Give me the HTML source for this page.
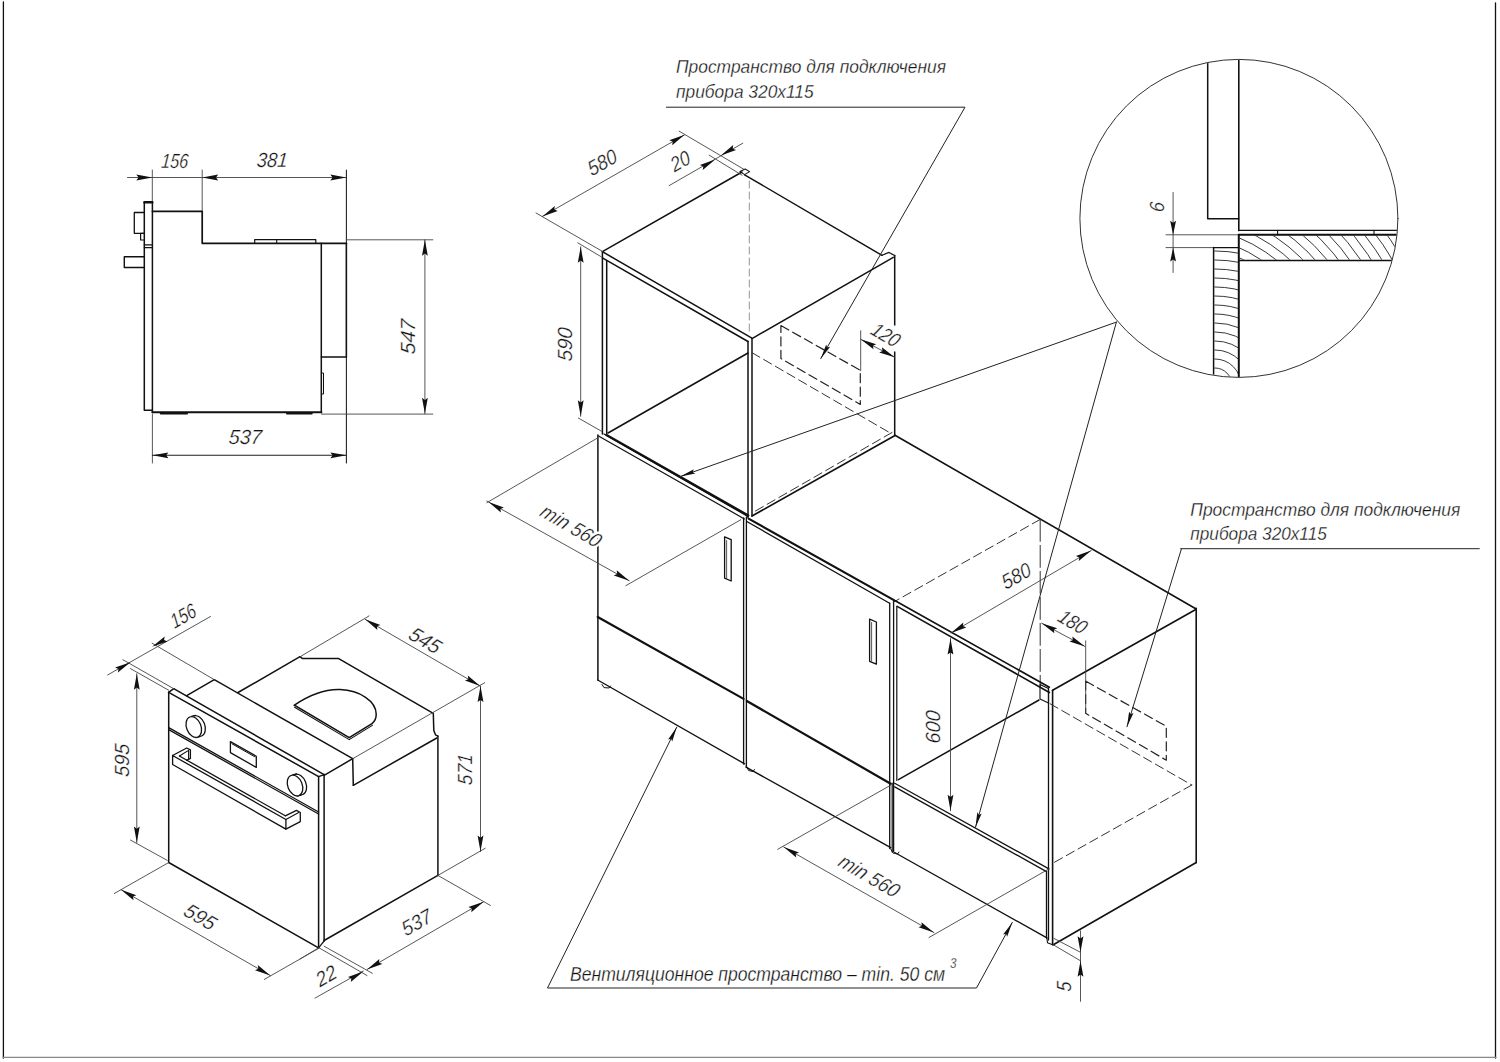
<!DOCTYPE html>
<html><head><meta charset="utf-8"><style>
html,body{margin:0;padding:0;background:#fff;}
svg{display:block;}
text{font-family:"Liberation Sans",sans-serif;}
</style></head><body>
<svg width="1500" height="1062" viewBox="0 0 1500 1062" stroke-linecap="round">
<line x1="3.4" y1="2.0" x2="3.4" y2="1058.0" stroke="#111" stroke-width="1.3"/>
<line x1="1495.5" y1="3.0" x2="1495.5" y2="1058.0" stroke="#111" stroke-width="1.3"/>
<line x1="3.0" y1="1057.4" x2="1496.0" y2="1057.4" stroke="#888" stroke-width="1.3"/>
<line x1="127.5" y1="177.5" x2="346.3" y2="177.5" stroke="#444" stroke-width="0.9"/>
<line x1="152.3" y1="170.0" x2="152.3" y2="201.7" stroke="#444" stroke-width="0.9"/>
<line x1="202.2" y1="170.0" x2="202.2" y2="211.3" stroke="#444" stroke-width="0.9"/>
<line x1="346.4" y1="170.0" x2="346.4" y2="463.0" stroke="#222" stroke-width="1.1"/>
<polygon points="152.3,177.5 136.3,180.4 138.5,177.5 136.3,174.6" fill="#111"/>
<polygon points="202.2,177.5 218.2,174.6 216.0,177.5 218.2,180.4" fill="#111"/>
<polygon points="346.3,177.5 330.3,180.4 332.5,177.5 330.3,174.6" fill="#111"/>
<text x="0" y="0" transform="translate(175.0,161.0) rotate(0) skewX(-5)" font-size="20.5" font-style="italic" text-anchor="middle" dominant-baseline="central" fill="#111" stroke="#fff" stroke-width="0.3" textLength="27.0" lengthAdjust="spacingAndGlyphs">156</text>
<text x="0" y="0" transform="translate(272.3,160.0) rotate(0) skewX(-5)" font-size="20.5" font-style="italic" text-anchor="middle" dominant-baseline="central" fill="#111" stroke="#fff" stroke-width="0.3" textLength="31.0" lengthAdjust="spacingAndGlyphs">381</text>
<polyline points="152.4,201.7 144.3,201.7 144.3,410.3 152.4,410.3" fill="none" stroke="#111" stroke-width="1.5" stroke-linejoin="round"/>
<line x1="152.4" y1="201.7" x2="152.4" y2="412.4" stroke="#111" stroke-width="1.5"/>
<line x1="144.3" y1="202.4" x2="152.4" y2="202.4" stroke="#111" stroke-width="2.2"/>
<polyline points="144.3,212.5 134.3,212.5 134.3,233.3 144.3,233.3" fill="none" stroke="#111" stroke-width="1.3" stroke-linejoin="round"/>
<polyline points="144.3,233.3 140.6,233.3 140.6,240.0 144.3,240.0" fill="none" stroke="#111" stroke-width="1.2" stroke-linejoin="round"/>
<line x1="144.3" y1="244.8" x2="152.4" y2="244.8" stroke="#111" stroke-width="1.2"/>
<line x1="144.3" y1="247.6" x2="152.4" y2="247.6" stroke="#111" stroke-width="1.2"/>
<polyline points="144.3,256.7 124.3,256.7 124.3,267.5 144.3,267.5" fill="none" stroke="#111" stroke-width="1.4" stroke-linejoin="round"/>
<polyline points="152.4,211.3 202.2,211.3 202.2,243.3 346.4,243.3" fill="none" stroke="#111" stroke-width="1.7" stroke-linejoin="round"/>
<polyline points="254.7,243.3 254.7,239.6 315.8,239.6 315.8,243.3" fill="none" stroke="#111" stroke-width="1.2" stroke-linejoin="round"/>
<line x1="276.7" y1="239.6" x2="276.7" y2="243.3" stroke="#111" stroke-width="1.1"/>
<line x1="321.3" y1="243.3" x2="321.3" y2="412.4" stroke="#111" stroke-width="1.5"/>
<line x1="346.4" y1="243.3" x2="346.4" y2="357.0" stroke="#111" stroke-width="1.5"/>
<line x1="321.3" y1="357.0" x2="346.4" y2="357.0" stroke="#111" stroke-width="1.5"/>
<polyline points="321.4,373.0 323.5,373.0 323.5,394.0 321.4,394.0" fill="none" stroke="#111" stroke-width="1.0" stroke-linejoin="round"/>
<line x1="152.4" y1="412.3" x2="321.4" y2="412.3" stroke="#111" stroke-width="2.0"/>
<line x1="160.8" y1="413.6" x2="187.0" y2="413.6" stroke="#111" stroke-width="2.0"/>
<line x1="287.0" y1="413.6" x2="311.7" y2="413.6" stroke="#111" stroke-width="2.0"/>
<line x1="321.4" y1="414.1" x2="432.8" y2="414.1" stroke="#444" stroke-width="0.9"/>
<line x1="346.4" y1="239.8" x2="432.8" y2="239.8" stroke="#444" stroke-width="0.9"/>
<line x1="424.9" y1="239.8" x2="424.9" y2="413.7" stroke="#444" stroke-width="0.9"/>
<polygon points="424.9,239.8 427.8,255.8 424.9,253.6 422.0,255.8" fill="#111"/>
<polygon points="424.9,413.7 422.0,397.7 424.9,399.9 427.8,397.7" fill="#111"/>
<text x="0" y="0" transform="translate(408.0,336.6) rotate(-90) skewX(-5)" font-size="20.5" font-style="italic" text-anchor="middle" dominant-baseline="central" fill="#111" stroke="#fff" stroke-width="0.3" textLength="35.0" lengthAdjust="spacingAndGlyphs">547</text>
<line x1="152.4" y1="414.0" x2="152.4" y2="463.0" stroke="#444" stroke-width="0.9"/>
<line x1="152.4" y1="455.3" x2="346.4" y2="455.3" stroke="#222" stroke-width="1.1"/>
<polygon points="152.4,455.3 168.4,452.4 166.2,455.3 168.4,458.2" fill="#111"/>
<polygon points="346.4,455.3 330.4,458.2 332.6,455.3 330.4,452.4" fill="#111"/>
<text x="0" y="0" transform="translate(245.5,437.0) rotate(0) skewX(-5)" font-size="20.5" font-style="italic" text-anchor="middle" dominant-baseline="central" fill="#111" stroke="#fff" stroke-width="0.3" textLength="33.0" lengthAdjust="spacingAndGlyphs">537</text>
<line x1="168.7" y1="692.3" x2="168.7" y2="862.5" stroke="#111" stroke-width="1.5"/>
<line x1="168.7" y1="692.3" x2="318.6" y2="776.6" stroke="#111" stroke-width="1.5"/>
<line x1="173.7" y1="688.7" x2="324.1" y2="774.6" stroke="#111" stroke-width="1.5"/>
<line x1="168.7" y1="692.3" x2="173.7" y2="688.7" stroke="#111" stroke-width="1.5"/>
<line x1="318.6" y1="776.6" x2="324.1" y2="774.6" stroke="#111" stroke-width="1.5"/>
<line x1="318.6" y1="776.6" x2="318.6" y2="947.8" stroke="#111" stroke-width="1.5"/>
<line x1="324.1" y1="774.6" x2="324.1" y2="941.0" stroke="#111" stroke-width="1.5"/>
<line x1="168.7" y1="862.5" x2="318.6" y2="947.8" stroke="#111" stroke-width="1.5"/>
<line x1="318.6" y1="947.8" x2="324.1" y2="941.0" stroke="#111" stroke-width="1.2"/>
<line x1="186.7" y1="695.7" x2="214.3" y2="679.7" stroke="#111" stroke-width="1.5"/>
<line x1="214.3" y1="679.7" x2="352.7" y2="758.7" stroke="#111" stroke-width="1.5"/>
<line x1="324.1" y1="775.3" x2="352.7" y2="758.7" stroke="#111" stroke-width="1.5"/>
<line x1="352.7" y1="758.7" x2="353.3" y2="785.3" stroke="#111" stroke-width="1.5"/>
<line x1="353.3" y1="785.3" x2="436.8" y2="738.0" stroke="#111" stroke-width="1.5"/>
<line x1="437.9" y1="736.0" x2="437.9" y2="875.4" stroke="#111" stroke-width="1.5"/>
<line x1="324.1" y1="940.5" x2="437.9" y2="875.4" stroke="#111" stroke-width="1.5"/>
<line x1="238.0" y1="692.5" x2="300.0" y2="656.7" stroke="#111" stroke-width="1.5"/>
<polyline points="300.0,656.7 302.5,658.6 338.7,658.6 433.3,713.3 433.8,730.5 435.5,734.8 437.9,736.2" fill="none" stroke="#111" stroke-width="1.5" stroke-linejoin="round"/>
<line x1="168.7" y1="727.6" x2="318.6" y2="812.0" stroke="#111" stroke-width="1.3"/>
<line x1="168.7" y1="729.6" x2="318.6" y2="814.0" stroke="#111" stroke-width="1.3"/>
<ellipse cx="197.6" cy="726.0" rx="7.2" ry="10.8" transform="rotate(-22 197.6 726.0)" fill="none" stroke="#111" stroke-width="1.3"/>
<line x1="191.6" y1="716.4" x2="195.4" y2="715.4" stroke="#111" stroke-width="1.3"/>
<line x1="196.0" y1="737.6" x2="199.8" y2="736.6" stroke="#111" stroke-width="1.3"/>
<ellipse cx="193.8" cy="727.0" rx="7.2" ry="10.8" transform="rotate(-22 193.8 727.0)" fill="#fff" stroke="#111" stroke-width="1.3"/>
<ellipse cx="298.8" cy="784.5" rx="7.2" ry="10.8" transform="rotate(-22 298.8 784.5)" fill="none" stroke="#111" stroke-width="1.3"/>
<line x1="292.8" y1="774.9" x2="296.6" y2="773.9" stroke="#111" stroke-width="1.3"/>
<line x1="297.2" y1="796.1" x2="301.0" y2="795.1" stroke="#111" stroke-width="1.3"/>
<ellipse cx="295.0" cy="785.5" rx="7.2" ry="10.8" transform="rotate(-22 295.0 785.5)" fill="#fff" stroke="#111" stroke-width="1.3"/>
<polygon points="230.4,741.6 256.3,756.2 256.3,767.4 230.4,752.6" fill="none" stroke="#111" stroke-width="1.3" stroke-linejoin="round"/>
<polyline points="231.9,743.8 254.8,756.8" fill="none" stroke="#111" stroke-width="1.0" stroke-linejoin="round"/>
<polyline points="172.6,755.5 285.9,819.5 285.9,829.1 172.6,764.5 172.6,755.5" fill="none" stroke="#111" stroke-width="1.3" stroke-linejoin="round"/>
<polyline points="172.6,755.5 186.7,748.0 190.4,749.8 190.4,758.4 186.6,760.4" fill="none" stroke="#111" stroke-width="1.3" stroke-linejoin="round"/>
<polyline points="179.4,756.0 188.6,750.4 188.6,758.8" fill="none" stroke="#111" stroke-width="1.1" stroke-linejoin="round"/>
<line x1="179.4" y1="756.0" x2="285.3" y2="815.8" stroke="#111" stroke-width="1.3"/>
<polyline points="285.3,815.8 296.5,810.4 300.3,812.5 300.3,821.6 285.9,829.1" fill="none" stroke="#111" stroke-width="1.3" stroke-linejoin="round"/>
<line x1="285.9" y1="819.5" x2="298.7" y2="812.6" stroke="#111" stroke-width="1.1"/>
<path d="M294.4,705.2 C308,696 324,689 340,689.6 C360,690.5 376,701 376.2,714 C376.3,718.5 374.5,721.6 372,723.6 L349.2,737.6 Z" fill="none" stroke="#111" stroke-width="1.5"/>
<polyline points="294.6,707.2 349.2,739.6 372.4,725.4" fill="none" stroke="#111" stroke-width="1.1" stroke-linejoin="round"/>
<line x1="107.6" y1="675.0" x2="210.5" y2="616.5" stroke="#444" stroke-width="0.9"/>
<line x1="122.9" y1="659.7" x2="173.7" y2="688.7" stroke="#444" stroke-width="0.9"/>
<line x1="152.1" y1="643.2" x2="214.3" y2="679.7" stroke="#444" stroke-width="0.9"/>
<polygon points="130.5,662.2 117.9,672.5 118.5,668.9 115.1,667.5" fill="#111"/>
<polygon points="152.1,646.8 164.7,636.5 164.1,640.1 167.5,641.5" fill="#111"/>
<text x="0" y="0" transform="translate(183.0,615.5) rotate(-30) skewX(-5)" font-size="20.5" font-style="italic" text-anchor="middle" dominant-baseline="central" fill="#111" stroke="#fff" stroke-width="0.3" textLength="27.0" lengthAdjust="spacingAndGlyphs">156</text>
<line x1="136.8" y1="673.7" x2="136.8" y2="842.6" stroke="#444" stroke-width="0.9"/>
<line x1="130.5" y1="668.6" x2="168.6" y2="690.2" stroke="#444" stroke-width="0.9"/>
<line x1="130.5" y1="840.1" x2="167.3" y2="860.4" stroke="#444" stroke-width="0.9"/>
<polygon points="136.8,673.7 139.7,689.7 136.8,687.5 133.9,689.7" fill="#111"/>
<polygon points="136.8,842.6 133.9,826.6 136.8,828.8 139.7,826.6" fill="#111"/>
<text x="0" y="0" transform="translate(121.6,760.0) rotate(-90) skewX(-5)" font-size="20.5" font-style="italic" text-anchor="middle" dominant-baseline="central" fill="#111" stroke="#fff" stroke-width="0.3" textLength="33.0" lengthAdjust="spacingAndGlyphs">595</text>
<line x1="168.6" y1="862.6" x2="114.3" y2="893.5" stroke="#444" stroke-width="0.9"/>
<line x1="318.5" y1="948.5" x2="264.3" y2="979.4" stroke="#444" stroke-width="0.9"/>
<line x1="121.1" y1="889.7" x2="270.3" y2="975.6" stroke="#444" stroke-width="0.9"/>
<polygon points="121.1,889.7 136.4,895.2 133.0,896.6 133.5,900.2" fill="#111"/>
<polygon points="270.3,975.6 255.0,970.2 258.4,968.8 257.8,965.1" fill="#111"/>
<text x="0" y="0" transform="translate(200.5,916.5) rotate(30) skewX(-5)" font-size="20.5" font-style="italic" text-anchor="middle" dominant-baseline="central" fill="#111" stroke="#fff" stroke-width="0.3" textLength="33.0" lengthAdjust="spacingAndGlyphs">595</text>
<line x1="352.7" y1="758.7" x2="484.7" y2="682.7" stroke="#444" stroke-width="0.9"/>
<line x1="300.5" y1="656.5" x2="369.1" y2="615.9" stroke="#444" stroke-width="0.9"/>
<line x1="365.1" y1="619.3" x2="480.2" y2="686.1" stroke="#444" stroke-width="0.9"/>
<polygon points="365.1,619.3 380.4,624.9 377.0,626.3 377.4,629.9" fill="#111"/>
<polygon points="480.2,686.1 464.9,680.6 468.3,679.2 467.8,675.6" fill="#111"/>
<text x="0" y="0" transform="translate(425.5,640.0) rotate(30) skewX(-5)" font-size="20.5" font-style="italic" text-anchor="middle" dominant-baseline="central" fill="#111" stroke="#fff" stroke-width="0.3" textLength="33.0" lengthAdjust="spacingAndGlyphs">545</text>
<line x1="437.9" y1="875.4" x2="485.2" y2="848.3" stroke="#444" stroke-width="0.9"/>
<line x1="480.5" y1="686.1" x2="480.5" y2="851.5" stroke="#444" stroke-width="0.9"/>
<polygon points="480.5,686.1 483.4,702.1 480.5,699.9 477.6,702.1" fill="#111"/>
<polygon points="480.5,851.5 477.6,835.5 480.5,837.7 483.4,835.5" fill="#111"/>
<text x="0" y="0" transform="translate(464.5,769.3) rotate(-90) skewX(-5)" font-size="20.5" font-style="italic" text-anchor="middle" dominant-baseline="central" fill="#111" stroke="#fff" stroke-width="0.3" textLength="31.0" lengthAdjust="spacingAndGlyphs">571</text>
<line x1="437.9" y1="875.4" x2="490.5" y2="905.5" stroke="#444" stroke-width="0.9"/>
<line x1="324.1" y1="946.2" x2="372.3" y2="973.3" stroke="#444" stroke-width="0.9"/>
<line x1="318.8" y1="947.7" x2="367.0" y2="975.5" stroke="#444" stroke-width="0.9"/>
<line x1="367.0" y1="969.5" x2="483.7" y2="901.7" stroke="#444" stroke-width="0.9"/>
<polygon points="367.0,969.5 379.4,959.0 378.9,962.6 382.3,964.0" fill="#111"/>
<polygon points="483.7,901.7 471.3,912.2 471.8,908.5 468.4,907.1" fill="#111"/>
<text x="0" y="0" transform="translate(416.5,922.0) rotate(-30) skewX(-5)" font-size="20.5" font-style="italic" text-anchor="middle" dominant-baseline="central" fill="#111" stroke="#fff" stroke-width="0.3" textLength="32.0" lengthAdjust="spacingAndGlyphs">537</text>
<line x1="315.0" y1="998.1" x2="363.3" y2="971.0" stroke="#444" stroke-width="0.9"/>
<polygon points="363.3,971.6 350.8,982.0 351.3,978.4 348.0,977.0" fill="#111"/>
<line x1="318.8" y1="947.7" x2="300.0" y2="959.0" stroke="#444" stroke-width="0.9"/>
<text x="0" y="0" transform="translate(326.0,975.5) rotate(-30) skewX(-5)" font-size="20.5" font-style="italic" text-anchor="middle" dominant-baseline="central" fill="#111" stroke="#fff" stroke-width="0.3" textLength="21.0" lengthAdjust="spacingAndGlyphs">22</text>
<line x1="602.4" y1="251.7" x2="742.0" y2="172.0" stroke="#111" stroke-width="1.5"/>
<polyline points="740.0,171.6 745.2,169.0 749.6,171.6 744.6,174.6 740.0,171.6" fill="none" stroke="#111" stroke-width="1.1" stroke-linejoin="round"/>
<line x1="744.6" y1="174.8" x2="882.0" y2="255.3" stroke="#111" stroke-width="1.5"/>
<polyline points="882.0,255.3 889.0,252.4 894.7,255.6" fill="none" stroke="#111" stroke-width="1.2" stroke-linejoin="round"/>
<line x1="894.7" y1="255.6" x2="894.7" y2="325.0" stroke="#111" stroke-width="1.5"/>
<line x1="894.7" y1="352.0" x2="894.7" y2="435.5" stroke="#111" stroke-width="1.5"/>
<line x1="602.4" y1="251.7" x2="751.5" y2="337.8" stroke="#111" stroke-width="1.5"/>
<line x1="602.4" y1="257.8" x2="748.0" y2="341.5" stroke="#111" stroke-width="1.5"/>
<line x1="893.3" y1="257.3" x2="752.0" y2="338.6" stroke="#111" stroke-width="1.5"/>
<line x1="602.4" y1="251.7" x2="602.4" y2="434.0" stroke="#111" stroke-width="1.5"/>
<line x1="606.7" y1="260.4" x2="606.7" y2="434.0" stroke="#111" stroke-width="1.5"/>
<line x1="748.0" y1="341.5" x2="748.0" y2="518.0" stroke="#111" stroke-width="1.5"/>
<line x1="752.0" y1="338.6" x2="752.0" y2="516.0" stroke="#111" stroke-width="1.5"/>
<line x1="604.0" y1="434.0" x2="748.0" y2="516.5" stroke="#111" stroke-width="1.3"/>
<line x1="606.5" y1="435.0" x2="748.2" y2="515.5" stroke="#111" stroke-width="2.4"/>
<line x1="608.0" y1="433.0" x2="748.0" y2="353.0" stroke="#111" stroke-width="1.5"/>
<line x1="895.0" y1="435.5" x2="752.0" y2="516.0" stroke="#111" stroke-width="1.7"/>
<line x1="749.3" y1="181.0" x2="749.3" y2="334.0" stroke="#888" stroke-width="0.9" stroke-dasharray="7,4"/>
<line x1="752.0" y1="352.7" x2="892.0" y2="434.0" stroke="#333" stroke-width="1.0" stroke-dasharray="9,4.5"/>
<line x1="892.0" y1="432.5" x2="752.0" y2="513.0" stroke="#333" stroke-width="1.0" stroke-dasharray="9,4.5"/>
<polyline points="780.9,325.6 860.3,370.3 860.3,404.4 780.9,358.5 780.9,325.6" fill="none" stroke="#222" stroke-width="1.2" stroke-dasharray="9,4.5" stroke-linejoin="round"/>
<line x1="597.9" y1="435.0" x2="597.9" y2="680.0" stroke="#111" stroke-width="1.5"/>
<line x1="598.5" y1="436.0" x2="744.4" y2="518.9" stroke="#111" stroke-width="1.2"/>
<line x1="743.6" y1="518.0" x2="743.6" y2="764.0" stroke="#111" stroke-width="1.3"/>
<line x1="746.4" y1="517.0" x2="746.4" y2="767.0" stroke="#111" stroke-width="1.3"/>
<line x1="597.7" y1="617.0" x2="743.6" y2="698.9" stroke="#111" stroke-width="2.2"/>
<line x1="597.7" y1="680.0" x2="744.6" y2="763.8" stroke="#111" stroke-width="1.4"/>
<polyline points="724.6,536.8 731.2,539.6 731.2,581.0 724.6,578.2 724.6,536.8" fill="none" stroke="#111" stroke-width="1.3" stroke-linejoin="round"/>
<line x1="726.6" y1="540.5" x2="726.6" y2="578.0" stroke="#444" stroke-width="0.9"/>
<polyline points="602.0,684.5 604.0,687.6 609.0,688.0 610.5,686.0" fill="none" stroke="#111" stroke-width="1.0" stroke-linejoin="round"/>
<polyline points="746.4,766.0 748.5,770.5 753.0,771.5 754.5,769.5" fill="none" stroke="#111" stroke-width="1.0" stroke-linejoin="round"/>
<line x1="749.0" y1="518.9" x2="894.4" y2="600.4" stroke="#111" stroke-width="2.2"/>
<line x1="746.8" y1="521.5" x2="889.6" y2="603.2" stroke="#111" stroke-width="1.3"/>
<line x1="889.7" y1="603.2" x2="889.7" y2="848.5" stroke="#111" stroke-width="1.3"/>
<line x1="893.6" y1="600.4" x2="893.6" y2="851.5" stroke="#111" stroke-width="1.3"/>
<line x1="746.8" y1="701.0" x2="890.7" y2="783.7" stroke="#111" stroke-width="2.2"/>
<line x1="746.0" y1="767.1" x2="890.7" y2="847.7" stroke="#111" stroke-width="1.4"/>
<polyline points="869.6,619.1 876.4,622.0 876.4,664.2 869.6,661.3 869.6,619.1" fill="none" stroke="#111" stroke-width="1.3" stroke-linejoin="round"/>
<line x1="871.6" y1="622.5" x2="871.6" y2="661.0" stroke="#444" stroke-width="0.9"/>
<polyline points="890.7,849.0 893.0,853.0 897.5,854.0 899.0,852.0" fill="none" stroke="#111" stroke-width="1.0" stroke-linejoin="round"/>
<line x1="895.0" y1="435.2" x2="1196.2" y2="609.0" stroke="#111" stroke-width="1.6"/>
<line x1="1040.2" y1="519.4" x2="893.2" y2="602.3" stroke="#333" stroke-width="1.0" stroke-dasharray="9,4.5"/>
<line x1="1040.2" y1="519.4" x2="1040.2" y2="687.0" stroke="#333" stroke-width="1.0" stroke-dasharray="22,4"/>
<line x1="895.2" y1="600.8" x2="1049.4" y2="687.2" stroke="#111" stroke-width="1.6"/>
<line x1="897.2" y1="606.4" x2="1049.4" y2="692.5" stroke="#111" stroke-width="1.6"/>
<line x1="896.8" y1="606.4" x2="896.8" y2="780.5" stroke="#111" stroke-width="1.2"/>
<line x1="894.7" y1="783.2" x2="1048.9" y2="868.9" stroke="#111" stroke-width="1.3"/>
<line x1="894.7" y1="786.9" x2="1046.5" y2="871.6" stroke="#111" stroke-width="1.3"/>
<line x1="898.4" y1="779.6" x2="1039.0" y2="700.0" stroke="#111" stroke-width="1.5"/>
<line x1="892.2" y1="783.0" x2="892.2" y2="852.0" stroke="#111" stroke-width="1.2"/>
<line x1="894.7" y1="852.5" x2="1046.9" y2="937.9" stroke="#111" stroke-width="1.4"/>
<line x1="1046.5" y1="871.4" x2="1046.5" y2="938.0" stroke="#111" stroke-width="1.3"/>
<line x1="1048.5" y1="688.0" x2="1048.5" y2="940.0" stroke="#111" stroke-width="1.3"/>
<line x1="1052.6" y1="690.3" x2="1052.6" y2="944.8" stroke="#111" stroke-width="1.6"/>
<line x1="1052.6" y1="690.3" x2="1196.2" y2="609.2" stroke="#111" stroke-width="1.6"/>
<line x1="1196.2" y1="608.4" x2="1196.2" y2="862.8" stroke="#111" stroke-width="1.6"/>
<line x1="1053.3" y1="944.8" x2="1195.8" y2="862.8" stroke="#111" stroke-width="1.6"/>
<polyline points="1040.0,684.4 1048.5,688.5 1048.5,703.0 1040.0,699.0 1040.0,684.4" fill="none" stroke="#111" stroke-width="1.1" stroke-linejoin="round"/>
<polyline points="1046.9,938.2 1047.5,942.8 1052.6,944.8" fill="none" stroke="#111" stroke-width="1.1" stroke-linejoin="round"/>
<line x1="1050.0" y1="703.7" x2="1191.8" y2="785.0" stroke="#333" stroke-width="1.0" stroke-dasharray="9,4.5"/>
<line x1="1191.8" y1="785.0" x2="1051.4" y2="864.0" stroke="#333" stroke-width="1.0" stroke-dasharray="9,4.5"/>
<polyline points="1085.6,681.1 1166.3,726.3 1166.3,760.2 1085.6,713.3 1085.6,681.1" fill="none" stroke="#222" stroke-width="1.2" stroke-dasharray="9,4.5" stroke-linejoin="round"/>
<circle cx="1238.9" cy="218.4" r="159.0" fill="none" stroke="#333" stroke-width="1.0"/>
<clipPath id="cc"><circle cx="1238.9" cy="218.4" r="158.5"/></clipPath>
<g clip-path="url(#cc)">
<line x1="1238.8" y1="55.0" x2="1238.8" y2="230.6" stroke="#111" stroke-width="1.6"/>
<polyline points="1207.7,55.0 1207.7,218.7 1238.8,218.7" fill="none" stroke="#111" stroke-width="1.5" stroke-linejoin="round"/>
<line x1="1238.8" y1="230.4" x2="1400.0" y2="230.4" stroke="#111" stroke-width="1.4"/>
<line x1="1238.8" y1="234.8" x2="1400.0" y2="234.8" stroke="#111" stroke-width="2.0"/>
<line x1="1277.6" y1="230.4" x2="1277.6" y2="234.8" stroke="#111" stroke-width="1.1"/>
<line x1="1374.0" y1="230.4" x2="1374.0" y2="234.8" stroke="#111" stroke-width="1.1"/>
<line x1="1166.0" y1="234.8" x2="1238.8" y2="234.8" stroke="#444" stroke-width="0.9"/>
<line x1="1166.0" y1="247.6" x2="1213.6" y2="247.6" stroke="#444" stroke-width="0.9"/>
<line x1="1213.6" y1="247.6" x2="1238.8" y2="247.6" stroke="#111" stroke-width="1.4"/>
<line x1="1238.8" y1="260.4" x2="1400.0" y2="260.4" stroke="#111" stroke-width="1.5"/>
<line x1="1238.8" y1="234.8" x2="1238.8" y2="380.0" stroke="#111" stroke-width="2.0"/>
<line x1="1213.6" y1="247.6" x2="1213.6" y2="380.0" stroke="#111" stroke-width="1.5"/>
<clipPath id="hp"><rect x="1239.5" y="235.5" width="160" height="24.2"/></clipPath>
<g clip-path="url(#hp)"><circle cx="1180" cy="380" r="136" fill="none" stroke="#222" stroke-width="0.9"/><circle cx="1180" cy="380" r="145" fill="none" stroke="#222" stroke-width="0.9"/><circle cx="1180" cy="380" r="154" fill="none" stroke="#222" stroke-width="0.9"/><circle cx="1180" cy="380" r="163" fill="none" stroke="#222" stroke-width="0.9"/><circle cx="1180" cy="380" r="172" fill="none" stroke="#222" stroke-width="0.9"/><circle cx="1180" cy="380" r="181" fill="none" stroke="#222" stroke-width="0.9"/><circle cx="1180" cy="380" r="190" fill="none" stroke="#222" stroke-width="0.9"/><circle cx="1180" cy="380" r="199" fill="none" stroke="#222" stroke-width="0.9"/><circle cx="1180" cy="380" r="208" fill="none" stroke="#222" stroke-width="0.9"/><circle cx="1180" cy="380" r="217" fill="none" stroke="#222" stroke-width="0.9"/><circle cx="1180" cy="380" r="226" fill="none" stroke="#222" stroke-width="0.9"/><circle cx="1180" cy="380" r="235" fill="none" stroke="#222" stroke-width="0.9"/><circle cx="1180" cy="380" r="244" fill="none" stroke="#222" stroke-width="0.9"/><circle cx="1180" cy="380" r="253" fill="none" stroke="#222" stroke-width="0.9"/></g>
<clipPath id="vp"><rect x="1214.3" y="248.3" width="23.8" height="132"/></clipPath>
<g clip-path="url(#vp)"><circle cx="1215" cy="385" r="8" fill="none" stroke="#222" stroke-width="0.9"/><circle cx="1215" cy="385" r="17" fill="none" stroke="#222" stroke-width="0.9"/><circle cx="1215" cy="385" r="26" fill="none" stroke="#222" stroke-width="0.9"/><circle cx="1215" cy="385" r="35" fill="none" stroke="#222" stroke-width="0.9"/><circle cx="1215" cy="385" r="44" fill="none" stroke="#222" stroke-width="0.9"/><circle cx="1215" cy="385" r="53" fill="none" stroke="#222" stroke-width="0.9"/><circle cx="1215" cy="385" r="62" fill="none" stroke="#222" stroke-width="0.9"/><circle cx="1215" cy="385" r="71" fill="none" stroke="#222" stroke-width="0.9"/><circle cx="1215" cy="385" r="80" fill="none" stroke="#222" stroke-width="0.9"/><circle cx="1215" cy="385" r="89" fill="none" stroke="#222" stroke-width="0.9"/><circle cx="1215" cy="385" r="98" fill="none" stroke="#222" stroke-width="0.9"/><circle cx="1215" cy="385" r="107" fill="none" stroke="#222" stroke-width="0.9"/><circle cx="1215" cy="385" r="116" fill="none" stroke="#222" stroke-width="0.9"/><circle cx="1215" cy="385" r="125" fill="none" stroke="#222" stroke-width="0.9"/><circle cx="1215" cy="385" r="134" fill="none" stroke="#222" stroke-width="0.9"/></g>
</g>
<line x1="1173.1" y1="192.5" x2="1173.1" y2="272.5" stroke="#444" stroke-width="0.9"/>
<polygon points="1173.1,234.8 1170.2,220.8 1173.1,222.8 1176.0,220.8" fill="#111"/>
<polygon points="1173.1,247.6 1176.0,261.6 1173.1,259.6 1170.2,261.6" fill="#111"/>
<text x="0" y="0" transform="translate(1156.4,206.9) rotate(-90) skewX(-5)" font-size="20.5" font-style="italic" text-anchor="middle" dominant-baseline="central" fill="#111" stroke="#fff" stroke-width="0.3" textLength="10.0" lengthAdjust="spacingAndGlyphs">6</text>
<line x1="536.0" y1="213.0" x2="602.8" y2="251.6" stroke="#444" stroke-width="0.9"/>
<line x1="679.2" y1="131.2" x2="744.4" y2="169.6" stroke="#444" stroke-width="0.9"/>
<line x1="542.4" y1="216.4" x2="684.6" y2="134.8" stroke="#444" stroke-width="0.9"/>
<polygon points="542.4,216.4 554.8,205.9 554.3,209.6 557.7,211.0" fill="#111"/>
<polygon points="684.6,134.8 672.2,145.3 672.7,141.6 669.3,140.2" fill="#111"/>
<text x="0" y="0" transform="translate(602.0,162.0) rotate(-30) skewX(-5)" font-size="20.5" font-style="italic" text-anchor="middle" dominant-baseline="central" fill="#111" stroke="#fff" stroke-width="0.3" textLength="31.0" lengthAdjust="spacingAndGlyphs">580</text>
<line x1="709.2" y1="155.2" x2="742.0" y2="175.2" stroke="#444" stroke-width="0.9"/>
<line x1="669.2" y1="185.6" x2="742.8" y2="143.2" stroke="#444" stroke-width="0.9"/>
<polygon points="715.2,159.6 702.8,170.1 703.3,166.5 699.9,165.1" fill="#111"/>
<polygon points="720.8,155.6 733.2,145.1 732.7,148.7 736.1,150.1" fill="#111"/>
<text x="0" y="0" transform="translate(680.0,160.8) rotate(-30) skewX(-5)" font-size="20.5" font-style="italic" text-anchor="middle" dominant-baseline="central" fill="#111" stroke="#fff" stroke-width="0.3" textLength="20.0" lengthAdjust="spacingAndGlyphs">20</text>
<line x1="577.7" y1="242.8" x2="601.1" y2="256.7" stroke="#444" stroke-width="0.9"/>
<line x1="578.3" y1="418.0" x2="602.0" y2="431.5" stroke="#444" stroke-width="0.9"/>
<line x1="580.7" y1="246.8" x2="580.7" y2="416.3" stroke="#444" stroke-width="0.9"/>
<polygon points="580.7,246.8 583.6,262.8 580.7,260.6 577.8,262.8" fill="#111"/>
<polygon points="580.7,416.3 577.8,400.3 580.7,402.5 583.6,400.3" fill="#111"/>
<text x="0" y="0" transform="translate(564.7,344.2) rotate(-90) skewX(-5)" font-size="20.5" font-style="italic" text-anchor="middle" dominant-baseline="central" fill="#111" stroke="#fff" stroke-width="0.3" textLength="34.0" lengthAdjust="spacingAndGlyphs">590</text>
<line x1="486.8" y1="502.7" x2="597.0" y2="438.3" stroke="#444" stroke-width="0.9"/>
<line x1="625.8" y1="585.7" x2="740.7" y2="519.8" stroke="#444" stroke-width="0.9"/>
<line x1="486.8" y1="501.0" x2="629.2" y2="580.7" stroke="#444" stroke-width="0.9"/>
<polygon points="488.5,502.0 503.8,507.5 500.4,508.9 500.9,512.5" fill="#111"/>
<polygon points="629.2,580.7 613.8,575.4 617.2,573.9 616.7,570.3" fill="#111"/>
<text x="0" y="0" transform="translate(571.5,525.5) rotate(30) skewX(-5)" font-size="20.5" font-style="italic" text-anchor="middle" dominant-baseline="central" fill="#fff" stroke="#fff" stroke-width="5" stroke-linejoin="round" textLength="66.0" lengthAdjust="spacingAndGlyphs">min 560</text>
<text x="0" y="0" transform="translate(571.5,525.5) rotate(30) skewX(-5)" font-size="20.5" font-style="italic" text-anchor="middle" dominant-baseline="central" fill="#111" stroke="#fff" stroke-width="0.3" textLength="66.0" lengthAdjust="spacingAndGlyphs">min 560</text>
<line x1="860.7" y1="330.7" x2="860.7" y2="370.7" stroke="#444" stroke-width="0.9"/>
<line x1="860.7" y1="339.3" x2="894.7" y2="357.3" stroke="#444" stroke-width="0.9"/>
<polygon points="860.7,339.3 876.2,344.2 872.9,345.7 873.5,349.3" fill="#111"/>
<polygon points="894.7,357.3 879.2,352.4 882.5,350.9 881.9,347.3" fill="#111"/>
<text x="0" y="0" transform="translate(886.0,334.5) rotate(30) skewX(-5)" font-size="20.5" font-style="italic" text-anchor="middle" dominant-baseline="central" fill="#111" stroke="#fff" stroke-width="0.3" textLength="29.0" lengthAdjust="spacingAndGlyphs">120</text>
<line x1="951.0" y1="633.0" x2="1091.2" y2="550.6" stroke="#444" stroke-width="0.9"/>
<polygon points="951.0,633.0 963.3,622.4 962.9,626.0 966.3,627.4" fill="#111"/>
<polygon points="1091.2,550.6 1078.8,561.1 1079.3,557.5 1075.9,556.1" fill="#111"/>
<text x="0" y="0" transform="translate(1016.0,575.5) rotate(-30) skewX(-5)" font-size="20.5" font-style="italic" text-anchor="middle" dominant-baseline="central" fill="#111" stroke="#fff" stroke-width="0.3" textLength="31.0" lengthAdjust="spacingAndGlyphs">580</text>
<line x1="1085.7" y1="640.8" x2="1085.7" y2="713.4" stroke="#444" stroke-width="0.9"/>
<line x1="1041.7" y1="623.2" x2="1084.6" y2="646.3" stroke="#444" stroke-width="0.9"/>
<polygon points="1041.7,623.2 1057.2,628.2 1053.8,629.7 1054.4,633.3" fill="#111"/>
<polygon points="1085.0,646.5 1069.5,641.5 1072.9,640.0 1072.3,636.4" fill="#111"/>
<text x="0" y="0" transform="translate(1073.0,621.5) rotate(30) skewX(-5)" font-size="20.5" font-style="italic" text-anchor="middle" dominant-baseline="central" fill="#111" stroke="#fff" stroke-width="0.3" textLength="29.0" lengthAdjust="spacingAndGlyphs">180</text>
<line x1="950.5" y1="638.6" x2="950.5" y2="810.8" stroke="#444" stroke-width="0.9"/>
<polygon points="950.5,638.6 953.4,654.6 950.5,652.4 947.6,654.6" fill="#111"/>
<polygon points="950.5,810.8 947.6,794.8 950.5,797.0 953.4,794.8" fill="#111"/>
<text x="0" y="0" transform="translate(932.6,726.9) rotate(-90) skewX(-5)" font-size="20.5" font-style="italic" text-anchor="middle" dominant-baseline="central" fill="#111" stroke="#fff" stroke-width="0.3" textLength="33.0" lengthAdjust="spacingAndGlyphs">600</text>
<line x1="777.7" y1="849.3" x2="890.7" y2="785.2" stroke="#444" stroke-width="0.9"/>
<line x1="929.0" y1="937.5" x2="1048.9" y2="868.9" stroke="#444" stroke-width="0.9"/>
<line x1="783.7" y1="847.0" x2="933.9" y2="932.6" stroke="#444" stroke-width="0.9"/>
<polygon points="783.7,847.0 799.0,852.4 795.7,853.8 796.2,857.4" fill="#111"/>
<polygon points="933.9,932.6 918.6,927.2 921.9,925.8 921.4,922.2" fill="#111"/>
<text x="0" y="0" transform="translate(869.6,875.6) rotate(30) skewX(-5)" font-size="20.5" font-style="italic" text-anchor="middle" dominant-baseline="central" fill="#111" stroke="#fff" stroke-width="0.3" textLength="66.0" lengthAdjust="spacingAndGlyphs">min 560</text>
<line x1="1053.9" y1="938.4" x2="1080.5" y2="952.3" stroke="#444" stroke-width="0.9"/>
<line x1="1053.3" y1="944.8" x2="1080.5" y2="960.8" stroke="#444" stroke-width="0.9"/>
<line x1="1080.5" y1="930.9" x2="1080.5" y2="1001.3" stroke="#444" stroke-width="0.9"/>
<polygon points="1080.5,952.3 1077.6,936.3 1080.5,938.5 1083.4,936.3" fill="#111"/>
<polygon points="1080.5,960.8 1083.4,976.8 1080.5,974.6 1077.6,976.8" fill="#111"/>
<text x="0" y="0" transform="translate(1063.5,986.4) rotate(-90) skewX(-5)" font-size="20.5" font-style="italic" text-anchor="middle" dominant-baseline="central" fill="#111" stroke="#fff" stroke-width="0.3" textLength="10.0" lengthAdjust="spacingAndGlyphs">5</text>
<polyline points="666.4,107.2 965.0,107.2 820.7,358.7" fill="none" stroke="#222" stroke-width="1.0" stroke-linejoin="round"/>
<polygon points="820.7,358.7 826.2,344.5 827.1,347.5 830.2,346.8" fill="#111"/>
<polyline points="1180.7,548.7 1479.3,548.7" fill="none" stroke="#222" stroke-width="1.0" stroke-linejoin="round"/>
<line x1="1181.4" y1="549.0" x2="1127.0" y2="726.7" stroke="#222" stroke-width="1.0"/>
<polygon points="1127.0,726.7 1129.1,711.7 1130.7,714.3 1133.5,713.0" fill="#111"/>
<line x1="1116.4" y1="322.1" x2="680.4" y2="476.5" stroke="#222" stroke-width="1.0"/>
<polygon points="680.4,476.5 693.8,469.3 692.6,472.2 695.3,473.6" fill="#111"/>
<line x1="1116.4" y1="322.1" x2="975.5" y2="827.3" stroke="#222" stroke-width="1.0"/>
<polygon points="975.5,827.3 977.3,812.2 979.0,814.9 981.7,813.5" fill="#111"/>
<polyline points="676.8,727.1 547.5,988.0 976.5,988.0 1012.3,922.4" fill="none" stroke="#222" stroke-width="1.0" stroke-linejoin="round"/>
<polygon points="676.8,727.1 672.2,741.6 671.1,738.7 668.1,739.5" fill="#111"/>
<polygon points="1012.3,922.4 1007.1,936.7 1006.1,933.7 1003.1,934.5" fill="#111"/>
<text x="676.0" y="73.0" font-size="19" font-style="italic" fill="#111" stroke="#fff" stroke-width="0.3" textLength="270.0" lengthAdjust="spacingAndGlyphs">Пространство для подключения</text>
<text x="676.0" y="98.0" font-size="19" font-style="italic" fill="#111" stroke="#fff" stroke-width="0.3" textLength="137.6" lengthAdjust="spacingAndGlyphs">прибора 320х115</text>
<text x="1190.3" y="515.6" font-size="19" font-style="italic" fill="#111" stroke="#fff" stroke-width="0.3" textLength="270.0" lengthAdjust="spacingAndGlyphs">Пространство для подключения</text>
<text x="1190.3" y="540.1" font-size="19" font-style="italic" fill="#111" stroke="#fff" stroke-width="0.3" textLength="136.5" lengthAdjust="spacingAndGlyphs">прибора 320х115</text>
<text x="570.0" y="980.5" font-size="20.5" font-style="italic" fill="#111" stroke="#fff" stroke-width="0.3" textLength="375.0" lengthAdjust="spacingAndGlyphs">Вентиляционное пространство – min. 50 см</text>
<text x="950.0" y="967.5" font-size="14" font-style="italic" fill="#111" stroke="#fff" stroke-width="0.3" textLength="6.5" lengthAdjust="spacingAndGlyphs">3</text>
</svg></body></html>
